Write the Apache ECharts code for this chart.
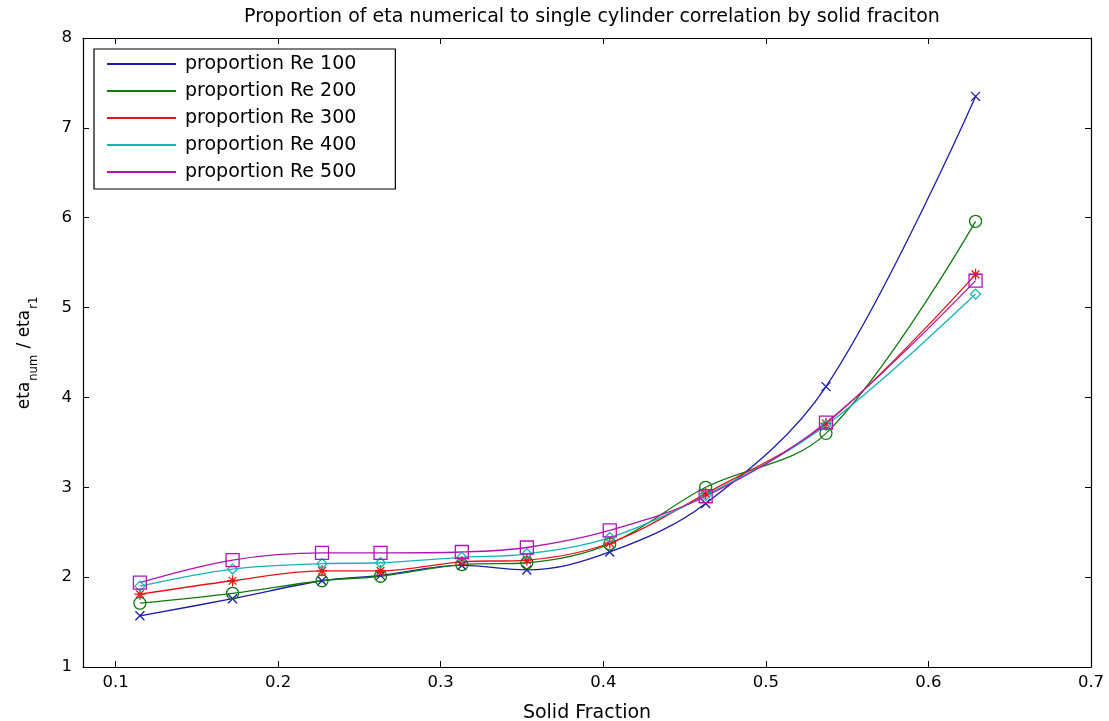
<!DOCTYPE html>
<html>
<head>
<meta charset="utf-8">
<script src="https://cdn.jsdelivr.net/npm/echarts@6/dist/echarts.min.js"></script>
<style>
html,body{margin:0;padding:0;background:#fff;}
#chart{width:1109px;height:721px;}
</style>
</head>
<body>
<div id="chart"></div>
<script>
// ---- data ----
const solidFraction = [0.115, 0.172, 0.227, 0.263, 0.313, 0.353, 0.404, 0.463, 0.537, 0.629];
const re100 = [1.57, 1.76, 1.96, 2.02, 2.13, 2.08, 2.28, 2.82, 4.12, 7.35];
const re200 = [1.71, 1.82, 1.96, 2.01, 2.14, 2.16, 2.37, 3.00, 3.60, 5.96];
const re300 = [1.81, 1.96, 2.07, 2.07, 2.17, 2.19, 2.38, 2.93, 3.71, 5.37];
const re400 = [1.90, 2.09, 2.15, 2.16, 2.22, 2.26, 2.44, 2.91, 3.69, 5.15];
const re500 = [1.94, 2.19, 2.27, 2.27, 2.28, 2.33, 2.52, 2.90, 3.72, 5.30];
const seriesNames = ['proportion Re 100', 'proportion Re 200', 'proportion Re 300', 'proportion Re 400', 'proportion Re 500'];
const xTicks = [0.1, 0.2, 0.3, 0.4, 0.5, 0.6, 0.7];
const yTicks = [1, 2, 3, 4, 5, 6, 7, 8];
const titleText = 'Proportion of eta numerical to single cylinder correlation by solid fraciton';
const xName = 'Solid Fraction';

// ---- styling ----
const colors = ['#1c1caa', '#127a12', '#e81414', '#14b4b4', '#b014b0'];
const symbols = [
  'path://M0,0L10,10M0,10L10,0',
  'circle',
  'path://M5,0L5,10M0,5L10,5M1.5,1.5L8.5,8.5M1.5,8.5L8.5,1.5',
  'diamond',
  'rect'
];
const symbolSizes = [9, 12, 11, 10, 13];
const allData = [re100, re200, re300, re400, re500];
const FONT = 'DejaVu Sans';

const chart = echarts.init(document.getElementById('chart'), null, {renderer: 'canvas'});

const series = allData.map((vals, i) => ({
  name: seriesNames[i],
  type: 'line',
  xAxisIndex: 0,
  yAxisIndex: 0,
  data: solidFraction.map((x, j) => [x, vals[j]]),
  smooth: 0.35,
  symbol: symbols[i],
  symbolSize: symbolSizes[i],
  showSymbol: true,
  lineStyle: {color: colors[i], width: 1.3},
  itemStyle: {color: 'rgba(0,0,0,0)', borderColor: colors[i], borderWidth: 1.3},
  emphasis: {disabled: true},
  animation: false
}));

const axisCommon = {
  axisLine: {show: true, onZero: false, lineStyle: {color: '#000', width: 1.2}},
  splitLine: {show: false}
};

chart.setOption({
  backgroundColor: '#fff',
  animation: false,
  title: {
    text: titleText,
    left: 587,
    textAlign: 'center',
    top: 3,
    textStyle: {fontFamily: FONT, fontSize: 19, fontWeight: 'normal', color: '#000'}
  },
  legend: {
    orient: 'vertical',
    left: 94,
    top: 49,
    padding: [5, 39, 7, 13],
    itemWidth: 69,
    itemHeight: 2,
    itemGap: 7,
    icon: 'rect',
    backgroundColor: '#fff',
    borderColor: '#000',
    borderWidth: 1.2,
    borderRadius: 0,
    selectedMode: false,
    textStyle: {fontFamily: FONT, fontSize: 19, color: '#000', lineHeight: 20, padding: [0, 0, 0, 4]},
    data: seriesNames.map((n, i) => ({name: n, itemStyle: {color: colors[i], borderWidth: 0}}))
  },
  grid: {left: 83, right: 18, top: 38, bottom: 54, containLabel: false, outerBoundsMode: 'none'},
  xAxis: [
    Object.assign({}, axisCommon, {
      type: 'value', position: 'bottom', min: 0.08, max: 0.7,
      name: xName, nameLocation: 'middle', nameGap: 37,
      nameTextStyle: {fontFamily: FONT, fontSize: 19, color: '#000'},
      axisTick: {show: true, inside: true, length: 6, customValues: xTicks, lineStyle: {color: '#000'}},
      axisLabel: {show: true, customValues: xTicks, margin: 7, fontFamily: FONT, fontSize: 16.5, color: '#000',
        formatter: v => v.toFixed(1)}
    }),
    Object.assign({}, axisCommon, {
      type: 'value', position: 'top', min: 0.08, max: 0.7,
      axisTick: {show: true, inside: true, length: 6, customValues: xTicks, lineStyle: {color: '#000'}},
      axisLabel: {show: false}
    })
  ],
  yAxis: [
    Object.assign({}, axisCommon, {
      type: 'value', position: 'left', min: 1, max: 8, interval: 1,
      name: 'eta{sub|num} / eta{sub|r1}', nameLocation: 'middle', nameGap: 58, nameRotate: 90,
      nameTextStyle: {
        fontFamily: FONT, fontSize: 17, color: '#000', lineHeight: 30, verticalAlign: 'middle', padding: [0, 0, 0, 0],
        rich: {sub: {fontFamily: FONT, fontSize: 11.5, color: '#000', verticalAlign: 'bottom', lineHeight: 30, padding: [10, 1, 0, 1]}}
      },
      axisTick: {show: true, inside: true, length: 6, customValues: yTicks, lineStyle: {color: '#000'}},
      axisLabel: {show: true, customValues: yTicks, margin: 11, fontFamily: FONT, fontSize: 16.5, color: '#000'}
    }),
    Object.assign({}, axisCommon, {
      type: 'value', position: 'right', min: 1, max: 8, interval: 1,
      axisTick: {show: true, inside: true, length: 6, customValues: yTicks, lineStyle: {color: '#000'}},
      axisLabel: {show: false}
    })
  ],
  series: series
});
</script>
</body>
</html>
